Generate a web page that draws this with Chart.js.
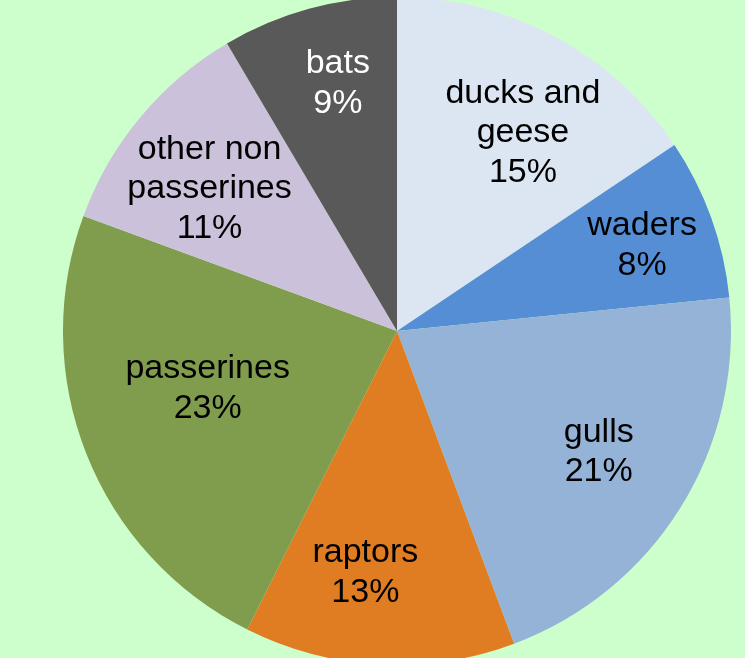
<!DOCTYPE html>
<html>
<head>
<meta charset="utf-8">
<script src="https://cdn.jsdelivr.net/npm/chart.js@4"></script>
<style>
  html, body { margin: 0; padding: 0; width: 745px; height: 658px; overflow: hidden; background: #ccffcc; }
  #wrap { position: absolute; left: 63px; top: -3px; width: 668px; height: 668px; }
</style>
</head>
<body>
<div id="wrap"><canvas id="pieChart"></canvas></div>
<script>
// slices, clockwise from 12 o'clock
var groups = [["ducks and", "geese"], ["waders"], ["gulls"], ["raptors"], ["passerines"], ["other non", "passerines"], ["bats"]];
// slice sizes (% of total)
var shares = [15.6, 7.8, 20.9, 13.1, 23.2, 10.9, 8.5];
// percentages printed on the slices
var pctText = ["15%", "8%", "21%", "13%", "23%", "11%", "9%"];

var colors = ["#dce6f2", "#558ed5", "#95b3d7", "#e07c21", "#809d4e", "#ccc1da", "#595959"];
var textColors = ["#000", "#000", "#000", "#000", "#000", "#000", "#fff"];
// label placement: fraction of radius and angle nudge (deg)
var labelRadius = [0.71, 0.78, 0.70, 0.72, 0.59, 0.71, 0.77];
var labelNudge = [4, 0, -1.5, 4.5, 5.5, -2, 2];

const sliceLabels = {
  id: 'sliceLabels',
  afterDatasetsDraw(chart) {
    const c = chart.ctx;
    const arcs = chart.getDatasetMeta(0).data;
    c.save();
    c.font = '34px "Liberation Sans", Arial, sans-serif';
    c.textAlign = 'center';
    c.textBaseline = 'middle';
    arcs.forEach((arc, i) => {
      const p = arc.getProps(['x', 'y', 'startAngle', 'endAngle', 'outerRadius'], true);
      const mid = (p.startAngle + p.endAngle) / 2 + labelNudge[i] * Math.PI / 180;
      const r = p.outerRadius * labelRadius[i];
      const cx = p.x + Math.cos(mid) * r;
      const cy = p.y + Math.sin(mid) * r + 3;
      const lines = groups[i].concat([pctText[i]]);
      const lh = 39.5;
      c.fillStyle = textColors[i];
      lines.forEach((t, k) => {
        c.fillText(t, cx, cy + (k - (lines.length - 1) / 2) * lh);
      });
    });
    c.restore();
  }
};

new Chart(document.getElementById('pieChart'), {
  type: 'pie',
  data: {
    labels: groups.map(g => g.join(' ')),
    datasets: [{
      data: shares,
      backgroundColor: colors,
      borderWidth: 0
    }]
  },
  options: {
    responsive: true,
    maintainAspectRatio: false,
    animation: false,
    layout: { padding: 0 },
    plugins: {
      legend: { display: false },
      tooltip: { enabled: false }
    }
  },
  plugins: [sliceLabels]
});
</script>
</body>
</html>
